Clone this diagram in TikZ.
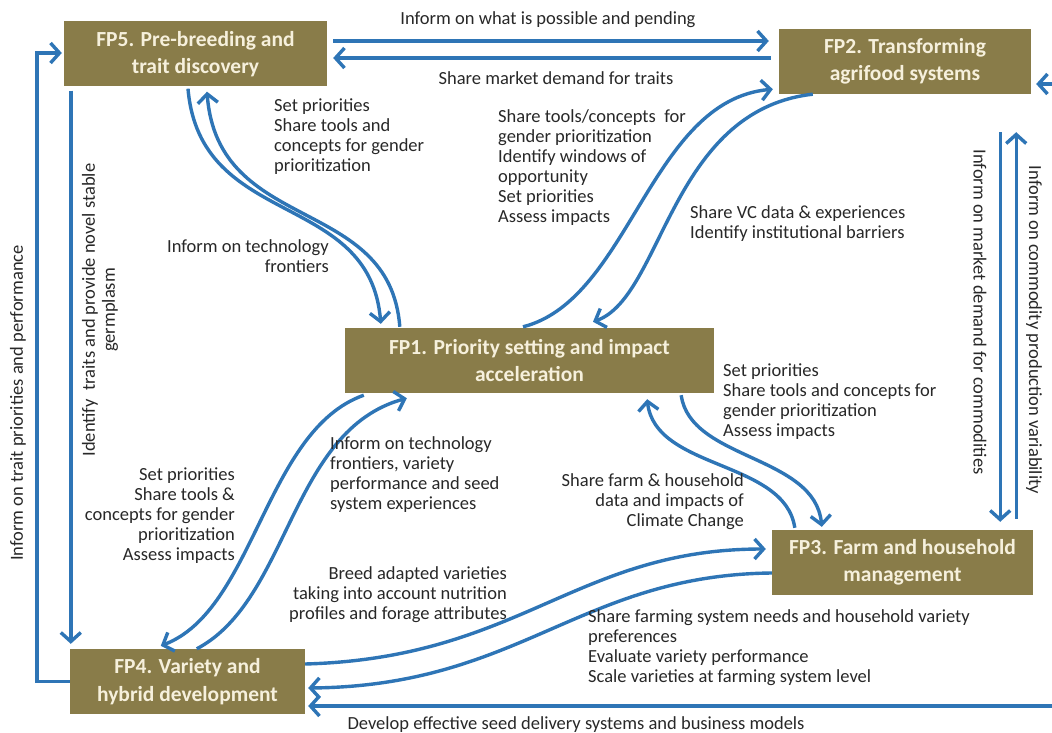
\documentclass[tikz,border=0pt]{standalone}
\usepackage{fontspec}
\setmainfont{Carlito}
\usetikzlibrary{arrows.meta,calc}

\begin{document}
\begin{tikzpicture}
[
x=1pt, y=-1pt,
Module/.style={rectangle, fill={rgb,255:red,137;green,124;blue,73}, text={rgb,255:red,246;green,240;blue,220}, minimum height=65pt, inner sep=0pt, align=center, font=\bfseries\fontsize{21.5}{27.5}\selectfont},
Line/.style={draw={rgb,255:red,46;green,117;blue,182}, line width=3.4pt},
Arrow/.style={Line, -{Straight Barb[length=9pt,width=20pt]}},
Note/.style={inner sep=0pt, text={rgb,255:red,40;green,40;blue,40}, font=\fontsize{18.5}{20}\selectfont},
]

\useasboundingbox[fill=white] (0,0) rectangle (1052,733);

% modules
\node[Module, minimum width=263pt] (FP5) at (195.5,54)   {FP5. Pre-breeding and\\trait discovery};
\node[Module, minimum width=252pt] (FP2) at (905,61.5)   {FP2. Transforming\\agrifood systems};
\node[Module, minimum width=369pt] (FP1) at (529.5,360.5) {FP1. Priority setting and impact\\acceleration};
\node[Module, minimum width=261pt] (FP3) at (902.5,562.5) {FP3. Farm and household\\management};
\node[Module, minimum width=235pt] (FP4) at (187.5,681.5) {FP4. Variety and\\hybrid development};

\coordinate (inTop) at (1052,84);
\coordinate (inBottom) at (1052,706);

% FP5 -- FP2
\draw[Arrow] ($(FP5.east)+(6,-13)$) -- ($(FP2.west)+(-10,-20.5)$);
\draw[Arrow] ($(FP2.west)+(-8,-3.5)$) -- ($(FP5.east)+(6,4)$);
% FP5 -- FP1
\draw[Arrow] ($(FP5.south)+(-7.5,2)$) .. controls +(12,141) and +(-11,-134) .. ($(FP1.north west)+(36,-4)$);
\draw[Arrow] ($(FP1.north west)+(55,-1)$) .. controls +(-10,-132) and +(11,143) .. ($(FP5.south)+(11.5,5)$);
% FP1 -- FP2
\draw[Arrow] ($(FP1.north)+(-6.5,-1)$) .. controls +(107,-27) and +(-123,11) .. ($(FP2.south west)+(-6,-5)$);
\draw[Arrow] ($(FP2.south west)+(34,0)$) .. controls +(-143,16) and +(70,-25) .. ($(FP1.north)+(63.5,-6)$);
% FP1 -- FP3
\draw[Arrow] ($(FP1.south east)+(-33,2)$) .. controls +(9,65) and +(-7,-72) .. ($(FP3.north west)+(50,-3)$);
\draw[Arrow] ($(FP3.north west)+(23,-2)$) .. controls +(-10,-68) and +(8,71) .. ($(FP1.south east)+(-67,6)$);
% FP1 -- FP4
\draw[Arrow] ($(FP1.south west)+(19,2)$) .. controls +(-99,35) and +(94,-36) .. ($(FP4.north west)+(91,-3)$);
\draw[Arrow] ($(FP4.north west)+(127,0)$) .. controls +(93,-49) and +(-117,32) .. ($(FP1.south west)+(62,5)$);
% FP4 -- FP3
\draw[Arrow] ($(FP4.east)+(0,-17.5)$) .. controls +(215,-6) and +(-190,0) .. ($(FP3.west)+(-6,-13.5)$);
\draw[Arrow] ($(FP3.west)+(0,10.5)$) .. controls +(-192,2) and +(212,-2) .. ($(FP4.east)+(3,6.5)$);
% FP2 -- FP3
\draw[Arrow] ($(FP2.south east)+(-31,38)$) -- ($(FP3.north east)+(-33,-8)$);
\draw[Arrow] ($(FP3.north east)+(-17,-11)$) -- ($(FP2.south east)+(-15,38)$);
% FP5 -- FP4
\draw[Arrow] ($(FP5.south west)+(7,4)$) -- ($(FP4.north west)+(1,-5)$);
\draw[Arrow] (FP4.west) -- ($(FP4.west)+(-33,0)$) |- ($(FP5.west)+(-2,-1)$);
% from outside
\draw[Arrow] (inTop) -- ($(FP2.east)+(5,22.5)$);
\draw[Arrow] (inBottom) -- ($(FP4.east)+(3,24.5)$);

% labels
\node[Note] (n1) at (548,20) {Inform on what is possible and pending};
\node[Note] (n2) at (556,78) {Share market demand for traits};
\node[Note, anchor=west, align=left] (n3) at (274,137) {Set priorities\\Share tools and\\concepts for gender\\prioritization};
\node[Note, anchor=east, align=right] (n4) at (329,256) {Inform on technology\\frontiers};
\node[Note, anchor=west, align=left] (n5) at (498,167.5) {Share tools/concepts\ \ for\\gender prioritization\\Identify windows of\\opportunity\\Set priorities\\Assess impacts};
\node[Note, anchor=west, align=left] (n6) at (690,224) {Share VC data \& experiences\\Identify institutional barriers};
\node[Note, anchor=west, align=left] (n7) at (723,401.5) {Set priorities\\Share tools and concepts for\\gender prioritization\\Assess impacts};
\node[Note, anchor=east, align=right] (n8) at (744,502) {Share farm \& household\\data and impacts of\\Climate Change};
\node[Note, anchor=west, align=left] (n9) at (330,475) {Inform on technology\\frontiers, variety\\performance and seed\\system experiences};
\node[Note, anchor=east, align=right] (n10) at (235,516) {Set priorities\\Share tools \&\\concepts for gender\\prioritization\\Assess impacts};
\node[Note, anchor=east, align=right] (n11) at (507,594.5) {Breed adapted varieties\\taking into account nutrition\\profiles and forage attributes};
\node[Note, anchor=west, align=left] (n12) at (588,647.5) {Share farming system needs and household variety\\preferences\\Evaluate variety performance\\Scale varieties at farming system level};
\node[Note] (n13) at (576,725) {Develop effective seed delivery systems and business models};
\node[Note, rotate=90] (n14) at (18,403) {Inform on trait priorities and performance};
\node[Note, rotate=90, align=center] (n15) at (100,310) {Identify\ \ traits and provide novel stable\\germplasm};
\node[Note, rotate=-90] (n16) at (980,312) {Inform on market demand for commodities};
\node[Note, rotate=-90] (n17) at (1034,330) {Inform on commodity production variability};
\end{tikzpicture}
\end{document}
